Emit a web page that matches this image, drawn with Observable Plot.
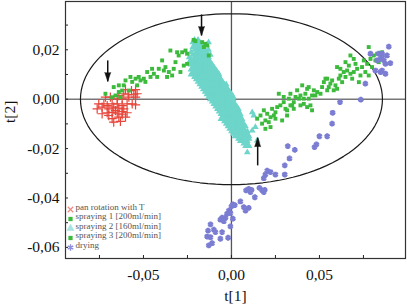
<!DOCTYPE html>
<html><head><meta charset="utf-8">
<script src="https://cdn.jsdelivr.net/npm/d3@7"></script>
<script src="https://cdn.jsdelivr.net/npm/@observablehq/plot@0.6"></script>
<style>
body{margin:0;background:#fff;}
#chart{width:407px;height:308px;}
#chart svg text{font-family:"Liberation Serif","Times New Roman",serif;}
</style></head><body><div id="chart"></div>
<script>
// All values in thousandths (t × 1000)
const panRotation = [[-60.2,3.9],[-56.8,3.5],[-54.5,3.9],[-61.2,2.2],[-58.7,1.8],[-55.5,1.8],[-53.6,2.2],[-64.0,1.5],[-71.6,0.8],[-68.8,0.8],[-64.9,0.1],[-62.1,0.1],[-58.3,0.8],[-54.5,0.8],[-75.4,-1.9],[-72.5,-1.9],[-70.6,-2.6],[-67.8,-1.9],[-64.9,-1.9],[-62.1,-2.6],[-59.3,-1.9],[-56.4,-1.9],[-54.5,-2.3],[-76.3,-3.9],[-73.5,-3.2],[-69.7,-3.9],[-66.9,-3.2],[-64.0,-3.6],[-61.2,-3.9],[-73.5,-5.9],[-70.6,-5.5],[-67.8,-5.3],[-64.9,-5.9],[-62.1,-5.0],[-59.3,-5.5],[-60.2,-7.3],[-67.8,-7.9],[-64.0,-7.3],[-66.9,-9.3],[-63.1,-9.0],[-62.1,-6.3],[-69.7,-6.6],[-65.9,-4.6]];
const spraying1 = [[-71.6,2.2],[-67.8,0.8],[-64.0,2.9],[-63.1,0.8],[-66.9,4.9],[-64.0,5.6],[-60.2,7.6],[-61.2,5.6],[-57.4,9.0],[-56.4,7.0],[-54.5,8.3],[-53.6,5.6],[-52.7,9.0],[-51.7,7.6],[-49.8,8.3],[-48.9,7.0],[-47.9,11.0],[-46.0,9.0],[-45.1,12.3],[-44.1,10.3],[-42.2,9.0],[-41.3,12.3],[-39.4,15.7],[-38.4,11.6],[-37.5,13.0],[-36.6,9.0],[-35.6,11.0],[-34.7,19.7],[-33.7,9.6],[-32.8,12.3],[-31.8,15.0],[-30.9,19.0],[-30.0,17.7],[-29.0,11.0],[-58.3,3.5],[-65.9,1.5],[-62.1,3.5],[-28.0,19.0],[-26.1,19.7],[-25.2,18.4],[-27.1,13.6],[-25.2,14.3],[-16.6,23.1],[-14.8,22.4],[-15.7,21.1],[-12.9,17.7],[-13.8,21.7],[-21.5,24.0],[-20.5,23.5]];
// spraying 2: rows of [t2, list of t1]
const spraying2Rows = [
 [24,[-21,-19]],[23,[-22,-20,-18,-13]],[22,[-21,-19,-17,-14]],[21,[-22,-20,-18,-16]],
 [20,[-21,-19,-17,-15,-13]],[19,[-23,-20,-18,-16,-14]],[18,[-22,-20,-18,-16,-14,-12]],
 [17,[-24,-21,-19,-17,-15,-13]],[16,[-23,-21,-19,-17,-15,-13]],[15,[-24,-22,-20,-18,-16,-14,-12]],
 [14,[-23,-21,-19,-17,-15,-13,-11]],[13,[-22,-20,-18,-16,-14,-12,-10]],[12,[-23,-21,-19,-17,-15,-13,-11,-9]],
 [11,[-22,-20,-18,-16,-14,-12,-10,-8]],[10,[-23,-21,-19,-17,-15,-13,-11,-9,-7]],[9,[-21,-19,-17,-15,-13,-11,-9,-7]],
 [8,[-20,-18,-16,-14,-12,-10,-8,-6]],[7,[-19,-17,-15,-13,-11,-9,-7,-5]],[6,[-18,-16,-14,-12,-10,-8,-6,-4,-3]],
 [5,[-17,-15,-13,-11,-9,-7,-5,-3]],[4,[-16,-14,-12,-10,-8,-6,-4,-2]],[3,[-15,-13,-11,-9,-7,-5,-3,-1]],
 [2,[-14,-12,-10,-8,-6,-4,-2,0]],[1,[-13,-11,-9,-7,-5,-3,-1,1]],[0,[-12,-10,-8,-6,-4,-2,0,1]],
 [-1,[-11,-9,-7,-5,-3,-1,1]],[-2,[-10,-8,-6,-4,-2,0,2]],[-3,[-9,-7,-5,-3,-1,1,3]],
 [-4,[-8,-6,-4,-2,0,2,4]],[-5,[-7,-5,-3,-1,1,3,4]],[-6,[-6,-4,-2,0,2,4,5]],
 [-7,[-5,-3,-1,1,3,5]],[-8,[-6,-4,-2,0,2,4,6]],[-9,[-4,-2,0,2,4,6]],
 [-10,[-3,-1,1,3,5,7]],[-11,[-2,0,2,4,6,8]],[-12,[-1,1,3,5,7]],
 [-13,[0,2,4,6,8,9]],[-14,[1,3,5,7,9]],[-15,[2,4,6,8,10]],
 [-16,[4,6,8,10]],[-17,[5,7,9]],[-18,[7,9]],[-19,[8,10]],
 [-21.5,[9]],[-16.7,[14.6]],[-12.7,[11.8]],[-11.3,[13.6]],[-6.6,[12.7]],[-5.3,[11.8]]
];
const spraying3 = [[14.6,-7.9],[16.5,-6.6],[18.4,-4.5],[19.3,-8.6],[20.3,-5.9],[21.2,-9.3],[22.2,-7.3],[23.1,-3.9],[24.1,-6.6],[25.0,-5.3],[26.0,-3.2],[26.9,2.2],[27.8,-2.5],[28.8,-8.6],[29.7,-1.2],[30.7,-3.9],[31.6,-6.6],[32.6,0.2],[33.5,2.2],[34.5,-2.5],[35.4,-1.2],[36.4,0.9],[37.3,3.6],[38.3,0.2],[39.2,1.5],[40.2,5.6],[41.1,-1.9],[42.0,2.2],[43.0,4.2],[43.9,0.2],[44.9,-2.5],[45.8,-4.5],[46.8,3.6],[47.7,1.5],[48.7,2.9],[50.6,2.2],[51.5,4.9],[52.5,6.9],[53.4,8.3],[54.4,3.6],[55.3,4.9],[56.2,6.3],[57.2,7.6],[58.1,3.6],[59.1,5.6],[60.0,4.2],[61.0,8.3],[61.9,9.6],[62.9,6.9],[63.8,11.0],[64.8,9.0],[65.7,11.6],[66.7,13.6],[67.6,10.3],[68.6,8.3],[69.5,11.0],[70.5,14.3],[71.4,12.3],[72.4,6.9],[73.3,9.6],[74.2,13.0],[75.2,15.7],[76.1,11.0],[77.1,14.3],[78.0,9.6],[79.0,16.3],[79.9,13.0],[80.9,17.7],[81.8,15.7],[82.8,18.4],[83.7,15.0],[78.0,21.1],[85.6,19.0],[67.6,17.7],[69.5,16.3],[60.0,13.0],[61.9,12.3],[64.8,15.0],[54.4,8.3],[45.8,1.5],[43.9,4.9],[41.1,0.2],[35.4,-3.9],[31.6,-4.5],[29.7,0.9],[25.0,-7.9],[22.2,-11.3],[19.3,-12.0],[17.4,-9.9],[33.5,-2.5],[39.2,-2.5],[43.0,-3.2]];
const drying = [[89.4,21.3],[90.3,14.6],[85.6,18.4],[82.8,15.7],[84.7,16.3],[85.6,17.7],[83.7,18.4],[86.6,15.7],[87.5,14.3],[85.6,11.6],[87.5,10.3],[84.7,11.0],[88.4,17.7],[81.8,11.6],[79.0,18.4],[76.1,6.3],[73.5,-0.2],[61.7,-1.2],[57.5,-5.5],[57.2,-9.9],[54.4,-15.0],[50.0,-15.0],[48.3,-18.3],[47.2,-19.4],[32.0,-19.0],[36.0,-20.5],[33.0,-24.0],[30.3,-26.8],[20.3,-28.9],[22.2,-29.5],[25.0,-30.5],[19.3,-30.5],[30.3,-30.5],[18.4,-32.0],[9.8,-36.3],[11.4,-36.7],[8.3,-36.9],[10.8,-37.6],[15.9,-35.9],[17.4,-36.9],[18.4,-37.6],[13.3,-39.7],[18.9,-36.7],[5.1,-41.4],[0.8,-42.6],[0.0,-43.4],[1.9,-42.9],[7.0,-43.7],[9.8,-44.0],[8.0,-45.1],[-1.5,-45.1],[-2.5,-46.4],[-0.6,-46.1],[-3.4,-48.0],[-5.3,-48.0],[-6.3,-48.8],[-4.3,-49.4],[0.8,-48.4],[-11.9,-50.7],[-10.0,-52.8],[-13.3,-53.2],[-9.1,-53.8],[-13.8,-55.6],[-11.9,-55.9],[-5.3,-53.8],[-6.3,-56.5],[-1.9,-56.1],[-0.6,-51.5],[-12.9,-59.2],[-11.0,-58.3]];
const ellipseSemiAxes = [85.8, 34.6];
const arrowsDown = [[-70.3, 15.7, 7.2], [-17.0, 34.3, 25.8]];
const arrowsUp = [[14.9, -26.8, -15.6]];
const xTicks = [-50, 0, 50];
const yTicks = [-60, -40, -20, 0, 20];
const xMinorTicks = [-75, -50, -25, 0, 25, 50, 75];
const yMinorTicks = [-60, -50, -40, -30, -20, -10, 0, 10, 20, 30];
const legendLabels = ["pan rotation with T", "spraying 1 [200ml/min]", "spraying 2 [160ml/min]", "spraying 3 [200ml/min]", "drying"];
const xLabel = "t[1]";
const yLabel = "t[2]";

const spraying2 = spraying2Rows.flatMap(([y, xs]) => xs.map(x => [x, y]));
const ellipse = d3.range(0, 361, 3).map(a => [ellipseSemiAxes[0] * Math.cos(a * Math.PI / 180), ellipseSemiAxes[1] * Math.sin(a * Math.PI / 180)]);
const loc = d3.formatLocale({decimal: ",", thousands: ".", grouping: [3], currency: ["", ""], minus: "-"});
const f2 = loc.format(".2f");
const fmt = d => f2(d / 1000);

const RED = "#e8453a", GREEN = "#3cba3c", CYAN = "#6dd5c9", PURPLE = "#7b7dd2";
const serif = "Liberation Serif";
const X = d => d[0], Y = d => d[1];
const legendStyles = [
  {symbol: "times", stroke: "#f08a80", fill: null, r: 2.6, strokeWidth: 1.2},
  {symbol: "square", fill: GREEN, r: 2.4},
  {symbol: "triangle", fill: "#a6e5df", r: 3},
  {symbol: "square", fill: GREEN, r: 2.4},
  {symbol: "asterisk", stroke: "#8d8fdc", fill: null, r: 3, strokeWidth: 1.4}
];
const legendDy = [-49, -39.5, -30, -20.5, -11];
const T = {fontFamily: serif, fill: "#111", fontSize: 15.5};

const chart = Plot.plot({
  width: 407, height: 308,
  marginLeft: 65, marginRight: 2, marginTop: 1, marginBottom: 50,
  x: {domain: [-94.3, 98.9], label: null},
  y: {domain: [-64.5, 39.55], label: null},
  style: {fontFamily: serif, background: "#fff"},
  marks: [
    Plot.ruleY([0], {stroke: "#777", strokeWidth: 1.6}),
    Plot.ruleX([0], {stroke: "#555", strokeWidth: 1.3}),
    Plot.line(ellipse, {x: X, y: Y, stroke: "#1a1a1a", strokeWidth: 1.2, curve: "linear"}),
    Plot.dot(panRotation, {x: X, y: Y, symbol: "plus", stroke: RED, r: 3.1, strokeWidth: 1.2}),
    Plot.dot(spraying2, {x: X, y: Y, symbol: "triangle", fill: CYAN, r: 2.5}),
    Plot.dot(spraying1, {x: X, y: Y, symbol: "square", fill: GREEN, r: 2.2}),
    Plot.dot(spraying3, {x: X, y: Y, symbol: "square", fill: GREEN, r: 2.2}),
    Plot.dot(drying, {x: X, y: Y, symbol: "asterisk", stroke: PURPLE, r: 2.7, strokeWidth: 2.3}),
    Plot.link(arrowsDown, {x1: X, x2: X, y1: d => d[1], y2: d => d[2], stroke: "#111", strokeWidth: 1.5}),
    Plot.link(arrowsUp, {x1: X, x2: X, y1: d => d[1], y2: d => d[2], stroke: "#111", strokeWidth: 1.5}),
    Plot.vector(arrowsDown, {x: X, y: d => d[2], length: 9, rotate: 180, anchor: "end", shape: "spike", r: 3, fill: "#111", stroke: "#111", strokeWidth: 0.5}),
    Plot.vector(arrowsUp, {x: X, y: d => d[2], length: 9, rotate: 0, anchor: "end", shape: "spike", r: 3, fill: "#111", stroke: "#111", strokeWidth: 0.5}),
    Plot.ruleX(xMinorTicks, {x: d => d, insetTop: 254, stroke: "#222", strokeWidth: 1}),
    Plot.ruleY(yMinorTicks, {y: d => d, insetRight: 337, stroke: "#222", strokeWidth: 1}),
    Plot.frame({stroke: "#333", strokeWidth: 1.2}),
    Plot.axisX({ticks: xTicks, tickSize: 0, tickPadding: 10, tickFormat: fmt, label: null, ...T}),
    Plot.axisY({ticks: yTicks, tickSize: 0, tickPadding: 6, tickFormat: fmt, label: null, ...T}),
    Plot.text([xLabel], {text: d => d, frameAnchor: "bottom", dy: 42, ...T}),
    Plot.text([yLabel], {text: d => d, frameAnchor: "left", dx: -55, dy: -7, rotate: -90, ...T}),
    ...legendLabels.map((label, i) => Plot.dot([label], {frameAnchor: "bottom-left", dx: 5, dy: legendDy[i], ...legendStyles[i]})),
    ...legendLabels.map((label, i) => Plot.text([label], {text: d => d, frameAnchor: "bottom-left", dx: 10, dy: legendDy[i], textAnchor: "start", fontSize: 9, fontFamily: serif, fill: "#555"}))
  ]
});
document.getElementById("chart").appendChild(chart);
</script></body></html>
